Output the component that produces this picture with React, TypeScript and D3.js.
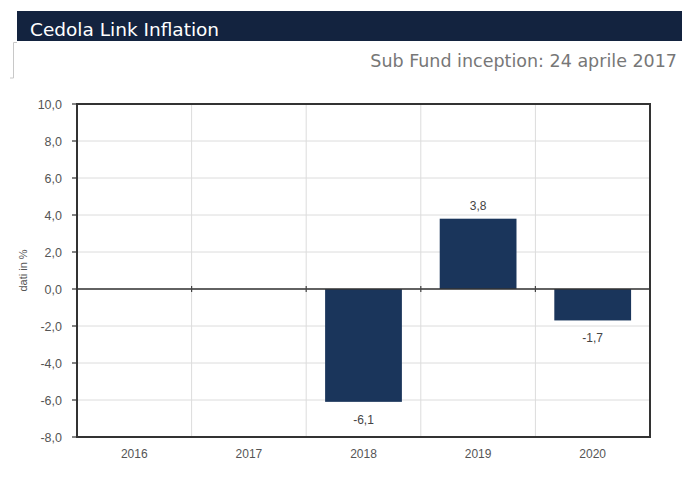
import React from "react";
import * as d3 from "d3";

const categories = ["2016", "2017", "2018", "2019", "2020"];
const values: (number | null)[] = [null, null, -6.1, 3.8, -1.7];
const yTicks = [10, 8, 6, 4, 2, 0, -2, -4, -6, -8];
const title = "Cedola Link Inflation";
const subtitle = "Sub Fund inception: 24 aprile 2017";
const yAxisTitle = "dati in %";

const fmt = (v: number) => v.toFixed(1).replace(".", ",");

export default function App() {
  const W = 682, H = 501;
  const left = 77, right = 650, top = 104, bottom = 437;
  const x = d3.scaleBand<string>().domain(categories).range([left, right]).paddingInner(0).paddingOuter(0);
  const y = d3.scaleLinear().domain([-8, 10]).range([bottom, top]);
  const bw = x.bandwidth();
  const barW = bw * 0.67;
  const boundaries = categories.slice(1).map((c) => x(c)!);

  return (
    <svg width={W} height={H} style={{ position: "absolute", left: 0, top: 0, background: "#fff" }}>
      {/* header */}
      <rect x={17} y={11} width={W - 17} height={30} fill="#13233f" />
      <text x={30} y={36} fill="#fff" fontFamily="DejaVu Sans, Verdana, sans-serif" fontSize={18.5}>{title}</text>
      <path d="M17,42.5 H13.5 V78 H10" fill="none" stroke="#c8c8c8" strokeWidth={1} />
      <text x={677} y={67} textAnchor="end" fill="#777" fontFamily="DejaVu Sans, Verdana, sans-serif" fontSize={17.5}>{subtitle}</text>

      {/* grid */}
      {yTicks.map((t) => (
        <line key={"g" + t} x1={left} x2={right} y1={y(t)} y2={y(t)} stroke="#dcdcdc" strokeWidth={1} />
      ))}
      {boundaries.map((bx, i) => (
        <line key={"v" + i} x1={bx} x2={bx} y1={top} y2={bottom} stroke="#dcdcdc" strokeWidth={1} />
      ))}

      {/* bars */}
      {categories.map((c, i) => {
        const v = values[i];
        if (v == null) return null;
        const cx = x(c)! + bw / 2;
        return (
          <rect key={"b" + c} x={cx - barW / 2} width={barW} y={Math.min(y(v), y(0))} height={Math.abs(y(v) - y(0))} fill="#1a355b" />
        );
      })}

      {/* zero line with ticks */}
      <line x1={left} x2={right} y1={y(0)} y2={y(0)} stroke="#333" strokeWidth={1.3} />
      {boundaries.map((bx, i) => (
        <line key={"zt" + i} x1={bx} x2={bx} y1={y(0) - 3} y2={y(0) + 3} stroke="#444" strokeWidth={1.2} />
      ))}

      {/* value labels */}
      {categories.map((c, i) => {
        const v = values[i];
        if (v == null) return null;
        const cx = x(c)! + bw / 2;
        const ly = v >= 0 ? y(v) - 9 : y(v) + 22;
        return (
          <g key={"l" + c}>
            <rect x={cx - 16} y={ly - 12} width={32} height={16} fill="#fff" />
            <text x={cx} y={ly} textAnchor="middle" fill="#444" fontFamily="Liberation Sans, Arial, sans-serif" fontSize={12}>{fmt(v)}</text>
          </g>
        );
      })}

      {/* frame */}
      <rect x={left} y={top} width={right - left} height={bottom - top} fill="none" stroke="#333" strokeWidth={2} />

      {/* y axis */}
      {yTicks.map((t) => (
        <g key={"yt" + t}>
          <line x1={left - 5} x2={left} y1={y(t)} y2={y(t)} stroke="#333" strokeWidth={1.2} />
          <text x={62} y={y(t) + 4.5} textAnchor="end" fill="#555" fontFamily="Liberation Sans, Arial, sans-serif" fontSize={12.5}>{fmt(t)}</text>
        </g>
      ))}
      <text transform={`translate(27,${(top + bottom) / 2}) rotate(-90)`} textAnchor="middle" fill="#555" fontFamily="Liberation Sans, Arial, sans-serif" fontSize={11}>{yAxisTitle}</text>

      {/* x axis labels */}
      {categories.map((c) => (
        <text key={"x" + c} x={x(c)! + bw / 2} y={458} textAnchor="middle" fill="#555" fontFamily="Liberation Sans, Arial, sans-serif" fontSize={12}>{c}</text>
      ))}
    </svg>
  );
}
